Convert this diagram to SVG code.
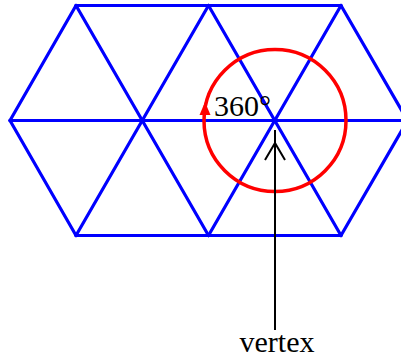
<svg xmlns="http://www.w3.org/2000/svg" width="401" height="358" viewBox="0 0 401 358">
<style>
.grid{stroke:#0000ff;stroke-width:3.2;fill:none;stroke-linecap:round;stroke-linejoin:round}
.lbl{font-family:"Liberation Serif",serif;fill:#000}
</style>
<g id="tiling" class="grid">
<line x1="76" y1="5.5" x2="341" y2="5.5"/>
<line x1="10" y1="120.5" x2="408" y2="120.5"/>
<line x1="76" y1="235.5" x2="341" y2="235.5"/>
<line x1="10" y1="120.5" x2="76" y2="5.5"/>
<line x1="76" y1="235.5" x2="208.5" y2="5.5"/>
<line x1="208.5" y1="235.5" x2="341" y2="5.5"/>
<line x1="341" y1="235.5" x2="407.5" y2="120.5"/>
<line x1="76" y1="5.5" x2="208.5" y2="235.5"/>
<line x1="208.5" y1="5.5" x2="341" y2="235.5"/>
<line x1="341" y1="5.5" x2="407.5" y2="120.5"/>
<line x1="10" y1="120.5" x2="76" y2="235.5"/>
</g>
<g id="angle">
<circle cx="275" cy="120.5" r="71" fill="none" stroke="#ff0000" stroke-width="3.5"/>
<polygon points="205,102 199.5,115 210.5,115" fill="#ff0000"/>
<text class="lbl" x="214" y="116" font-size="30">360°</text>
</g>
<g id="connectors">
<line x1="275" y1="130" x2="275" y2="330" stroke="#000" stroke-width="2"/>
<polyline points="265,160 275,143 285,160" fill="none" stroke="#000" stroke-width="2"/>
</g>
<g id="vertex-label">
<text class="lbl" x="277" y="352" font-size="30" text-anchor="middle">vertex</text>
</g>
</svg>
